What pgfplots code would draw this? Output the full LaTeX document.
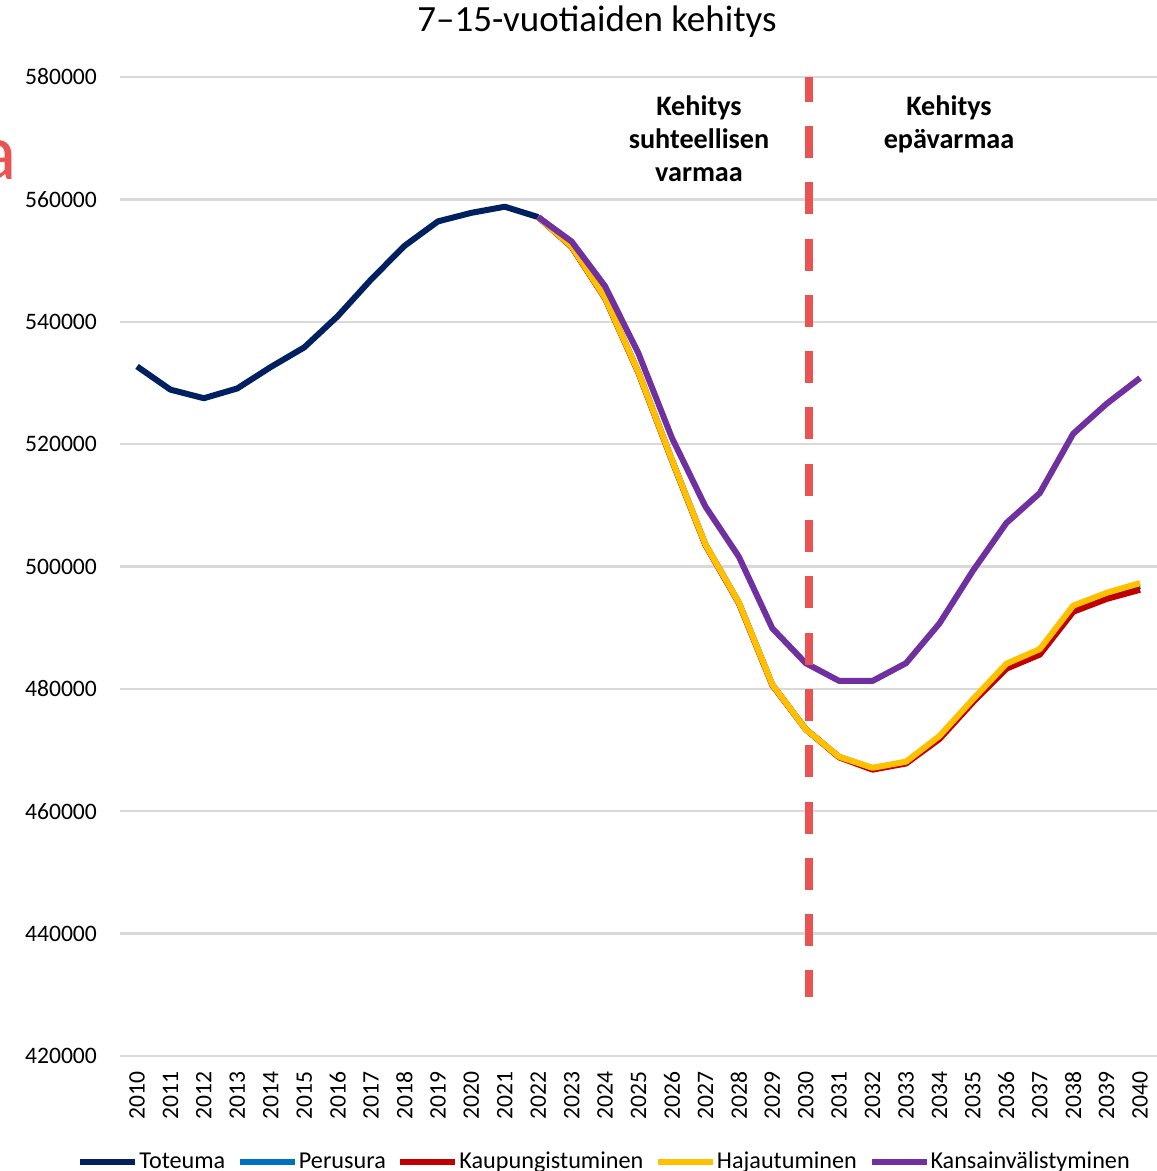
\documentclass[border=0pt]{standalone}
\usepackage{pgfplots}
\pgfplotsset{compat=1.18}
\usepackage{fontspec}
\setmainfont{Carlito}
\definecolor{toteuma}{RGB}{0,32,96}
\definecolor{perusura}{RGB}{0,112,192}
\definecolor{kaup}{RGB}{192,0,0}
\definecolor{haja}{RGB}{255,192,0}
\definecolor{kans}{RGB}{112,48,160}
\definecolor{dashred}{RGB}{233,84,82}
\definecolor{gridgray}{RGB}{217,217,217}
\begin{document}
\begin{tikzpicture}
\begin{axis}[
  at={(60.15bp,57.5bp)}, anchor=south west,
  scale only axis, width=518.25bp, height=489.5bp,
  xmin=2009.5, xmax=2040.5, ymin=420000, ymax=580000,
  xtick={2010,2011,...,2040},
  xticklabels={2010,2011,2012,2013,2014,2015,2016,2017,2018,2019,2020,2021,2022,2023,2024,2025,2026,2027,2028,2029,2030,2031,2032,2033,2034,2035,2036,2037,2038,2039,2040},
  ytick={420000,440000,460000,480000,500000,520000,540000,560000,580000},
  yticklabels={420000,440000,460000,480000,500000,520000,540000,560000,580000},
  scaled y ticks=false,
  axis line style={draw=none},
  major tick length=0pt,
  ymajorgrids,
  major grid style={draw=gridgray, line width=1.2bp},
  ticklabel style={font=\fontsize{11.8bp}{14bp}\selectfont, inner sep=0pt},
  xticklabel style={rotate=90, anchor=east},
  xticklabel shift=7.5bp,
  yticklabel shift=11.5bp,
  legend columns=-1,
  legend cell align=left,
  legend image code/.code={\draw[#1] (0bp,0bp) -- (27.5bp,0bp);},
  legend style={at={(-0.0418,-0.1082)}, anchor=west, draw=none, fill=none,
    inner sep=0pt, font=\fontsize{12.1bp}{14bp}\selectfont,
    nodes={inner sep=0pt},
    /tikz/every odd column/.append style={column sep=0.5bp},
    /tikz/every even column/.append style={column sep=5.8bp}},
  every axis plot/.append style={line width=3bp, line join=round},
]
\addplot[color=toteuma] coordinates {
(2010,532700) (2011,528900) (2012,527500) (2013,529100) (2014,532600)
(2015,535800) (2016,540900) (2017,546900) (2018,552400) (2019,556400)
(2020,557800) (2021,558800) (2022,557100)};
\addlegendentry{Toteuma}
\addplot[color=perusura] coordinates {
(2022,557100) (2023,552300) (2024,543900) (2025,531700) (2026,517400)
(2027,503600) (2028,494100) (2029,480700) (2030,473400) (2031,468900)
(2032,467000) (2033,468000) (2034,472100) (2035,478100) (2036,483800)
(2037,486100) (2038,493200) (2039,495300) (2040,496800)};
\addlegendentry{Perusura}
\addplot[color=kaup] coordinates {
(2022,557100) (2023,552200) (2024,543800) (2025,531600) (2026,517300)
(2027,503500) (2028,494000) (2029,480600) (2030,473400) (2031,468800)
(2032,466800) (2033,467800) (2034,471800) (2035,477800) (2036,483300)
(2037,485600) (2038,492600) (2039,494700) (2040,496200)};
\addlegendentry{Kaupungistuminen}
\addplot[color=haja] coordinates {
(2022,557100) (2023,552300) (2024,543900) (2025,531700) (2026,517400)
(2027,503600) (2028,494100) (2029,480700) (2030,473400) (2031,468900)
(2032,467100) (2033,468100) (2034,472300) (2035,478300) (2036,484100)
(2037,486500) (2038,493600) (2039,495700) (2040,497300)};
\addlegendentry{Hajautuminen}
\addplot[color=kans] coordinates {
(2022,557100) (2023,553100) (2024,545800) (2025,534800) (2026,521000)
(2027,509800) (2028,501600) (2029,489900) (2030,484200) (2031,481300)
(2032,481300) (2033,484200) (2034,490700) (2035,499300) (2036,507100)
(2037,512000) (2038,521700) (2039,526600) (2040,530800)};
\addlegendentry{Kansainvälistyminen}
\addplot[color=dashred, line width=4bp, dash pattern=on 16bp off 12.15bp, dash phase=3.65bp, line join=miter, forget plot]
  coordinates {(2030.1,580000) (2030.1,429670)};
\end{axis}
\node[anchor=base, inner sep=0pt, font=\fontsize{18.5bp}{22bp}\selectfont] at (298.5bp,569.5bp) {7–15-vuotiaiden kehitys};
\begin{scope}[every node/.style={anchor=base, inner sep=0pt, font=\fontsize{14.1bp}{17bp}\selectfont\bfseries}]
\node at (349.5bp,527.5bp) {Kehitys};
\node at (349.5bp,511.35bp) {suhteellisen};
\node at (349.5bp,494.65bp) {varmaa};
\node at (474.5bp,527.5bp) {Kehitys};
\node at (474.5bp,511.35bp) {epävarmaa};
\end{scope}
\node[anchor=base east, inner sep=0pt, text=dashred, font=\fontsize{40bp}{48bp}\selectfont] at (8.5bp,495.5bp) {a};
\pgfresetboundingbox
\useasboundingbox (0bp,0bp) rectangle (578.5bp,585.5bp);
\end{tikzpicture}
\end{document}
